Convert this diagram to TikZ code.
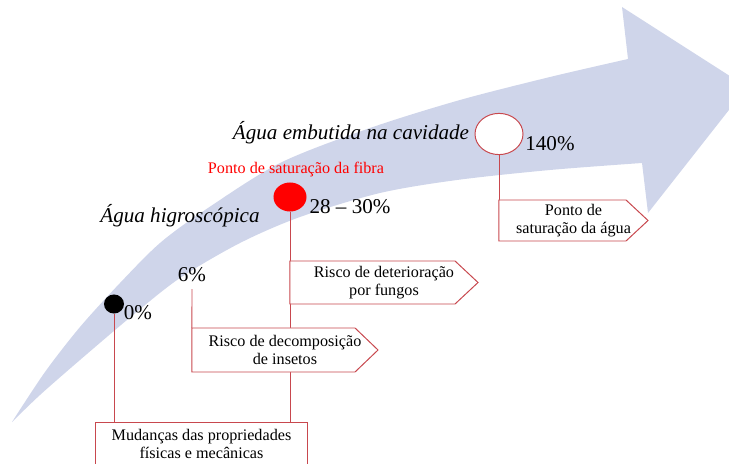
\documentclass[tikz,border=0pt]{standalone}
\usepackage{fontspec}
\setmainfont{Liberation Serif}
\usetikzlibrary{shapes.geometric,backgrounds}

\definecolor{bandblue}{RGB}{207,213,234}
\definecolor{linered}{RGB}{200,72,78}

\begin{document}
\begin{tikzpicture}[x=0.025cm, y=-0.025cm]
\tikzset{ inner sep=0pt, outer sep=0pt,
  pct/.style={font=\fontsize{15}{18}\selectfont},
  phase/.style={font=\fontsize{15}{18}\selectfont\itshape},
  tagbox/.style={align=center, font=\fontsize{11.5}{12.5}\selectfont, minimum height=1.1cm},
  redline/.style={linered, line width=0.7pt},
  tagline/.style={draw=linered, line width=0.7pt, fill=white},
}

\useasboundingbox (0,0) rectangle (729,464);

%\draw [lightgray, dashed](0,0) grid (729,464);

\node [ellipse, fill=black, minimum width=0.5cm, minimum height=0.475cm] (D0) at (114,304) {};
\node [ellipse, fill=red, minimum width=0.825cm, minimum height=0.725cm] (D28) at (290,197) {};
\node [ellipse, draw=linered, line width=0.7pt, fill=white, minimum width=1.2cm, minimum height=1.03cm] (D140) at (499,134) {};

\node [pct] (P0) at (138,313) {0\%};
\node [pct] (P6) at (192,275) {6\%};
\node [pct] (P28) at (350,207) {28 -- 30\%};
\node [pct] (P140) at (550,144) {140\%};

\node [phase] (Higro) at (180,216) {Água higroscópica};
\node [phase] (Cav) at (351,133) {Água embutida na cavidade};
\node [font=\fontsize{11.5}{12.5}\selectfont, red] (Fibra) at (296,170) {Ponto de saturação da fibra};

\node [tagbox, minimum width=4.65cm] (Dec) at (285,350) {Risco de decomposição\\de insetos};
\node [tagbox, minimum width=4.7cm, minimum height=1.075cm] (Det) at (384,282.5) {Risco de deterioração\\por fungos};
\node [tagbox, minimum width=3.725cm, minimum height=1.025cm] (Sat) at (573.5,220.5) {Ponto de\\saturação da água};
\node [tagbox, minimum width=5.275cm] (Mud) at (201.5,444) {Mudanças das propriedades\\físicas e mecânicas};

\begin{pgfonlayer}{background}
% the big arrow
\fill [bandblue] plot [smooth] coordinates {(12,422) (45,372) (80,327) (120,283) (160,243) (205,210) (280,163) (370,128) (460,100) (550,77) (628,59)}
  -- (622,7) -- (747,87) -- (648,213) -- (642,163)
  -- plot [smooth] coordinates {(642,163) (550,170) (457,180) (380,193) (300,217) (240,243) (180,278) (133,315) (80,360) (40,395) (12,422)} -- cycle;

\draw [redline] (D0) -- (D0 |- Mud.north);
\draw [redline] (D28) -- (D28 |- Mud.north);
\draw [redline] ([yshift=-5pt]P6.south) -- (Dec.north west);
\draw [redline] (D140) -- (D140 |- Sat.north);

\draw [tagline] (Dec.north west) -- ([xshift=-0.575cm]Dec.north east) -- (Dec.east) -- ([xshift=-0.575cm]Dec.south east) -- (Dec.south west) -- cycle;
\draw [tagline] (Det.north west) -- ([xshift=-0.575cm]Det.north east) -- (Det.east) -- ([xshift=-0.575cm]Det.south east) -- (Det.south west) -- cycle;
\draw [tagline] (Sat.north west) -- ([xshift=-0.55cm]Sat.north east) -- (Sat.east) -- ([xshift=-0.55cm]Sat.south east) -- (Sat.south west) -- cycle;
\draw [tagline] (Mud.north west) rectangle (Mud.south east);
\end{pgfonlayer}

\end{tikzpicture}
\end{document}
